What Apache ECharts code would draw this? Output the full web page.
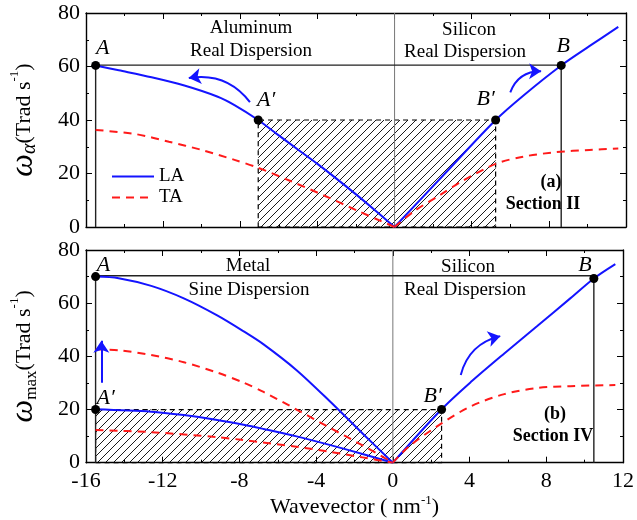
<!DOCTYPE html>
<html>
<head>
<meta charset="utf-8">
<script src="https://cdn.jsdelivr.net/npm/echarts@6/dist/echarts.min.js"></script>
<style>html,body{margin:0;padding:0;background:#fff}#c{width:637px;height:520px}</style>
</head>
<body>
<div id="c"></div>
<script>
// ---------- DATA ----------
const xTicks = [-16, -12, -8, -4, 0, 4, 8, 12];
const yTicks = [0, 20, 40, 60, 80];

// Panel (a): Aluminum real dispersion (left) / Silicon real dispersion (right)
const aLA_leftQ  = [-15.5, -14.3, -12.6, -10.9, -9.2, -8.3, -7.07, -6.2, -5.0, -4.0, -3.0, -2.0, -1.0, 0];
const aLA_leftV  = [60.4, 58.6, 56.0, 52.9, 48.8, 45.6, 40.0, 35.3, 28.9, 23.6, 18.0, 12.2, 6.2, 0];
const aLA_rightQ = [0, 2.6, 5.24, 6.67, 8.64, 10.1, 11.6];
const aLA_rightV = [0, 19.9, 40.0, 49.1, 60.4, 67.6, 74.8];
const aTA_leftQ  = [-15.5, -13.4, -11.7, -10.0, -8.3, -7.1, -5.4, -3.6, -1.9, -0.7, 0];
const aTA_leftV  = [36.3, 34.7, 31.9, 28.8, 25.1, 22.2, 17.2, 11.6, 6.0, 2.2, 0];
const aTA_rightQ = [0, 1.07, 2.37, 3.47, 5.24, 6.67, 8.39, 10.1, 11.6];
const aTA_rightV = [0, 6.2, 12.0, 17.0, 23.6, 26.3, 28.0, 28.8, 29.3];
const aPointsQ = [-15.5, -7.07, 5.24, 8.64];
const aPointsV = [60.4, 40.0, 40.0, 60.4];
const aPointNames = ['A', 'A\u2032', 'B\u2032', 'B'];
const aFrameQ = [-15.5, -15.5, 8.64, 8.64];
const aFrameV = [0, 60.5, 60.5, 0];
const aHatchQ = [-7.07, 5.24];
const aHatchV = [0, 40];
const aArrowsTail = [[-7.5, 46.7], [6.0, 50.3]];
const aArrowsHead = [[-10.67, 55.7], [7.6, 58.2]];

// Panel (b): Metal sine dispersion (left) / Silicon real dispersion (right)
const bLA_upQ  = [-15.5, -14.3, -12.6, -10.9, -9.16, -7.78, -6.74, -5.02, -3.3, -1.58, 0];
const bLA_upV  = [70.0, 69.4, 66.5, 61.8, 55.4, 49.4, 44.5, 34.8, 23.2, 11.0, 0];
const bTA_upQ  = [-15.5, -14.3, -12.6, -10.9, -9.16, -7.78, -6.74, -5.02, -3.3, -1.58, 0];
const bTA_upV  = [42.6, 42.3, 40.5, 37.8, 33.9, 30.1, 26.6, 20.0, 13.2, 6.5, 0];
const bLA_lowQ = [-15.5, -12.6, -10.9, -9.16, -7.78, -6.74, -5.02, -3.3, -1.58, 0];
const bLA_lowV = [20.1, 19.2, 17.9, 16.1, 14.3, 12.7, 9.9, 6.7, 3.3, 0];
const bTA_lowQ = [-15.5, -12.6, -9.16, -7.9, -5.02, -3.3, -1.58, 0];
const bTA_lowV = [12.3, 11.5, 9.6, 8.6, 6.0, 4.1, 2.0, 0];
const bLA_rightQ = [0, 2.54, 4.09, 5.81, 7.53, 9.25, 10.48, 11.6];
const bLA_rightV = [0, 20.1, 30.5, 41.1, 51.4, 61.8, 69.3, 74.7];
const bTA_rightQ = [0, 0.82, 2.54, 4.09, 5.81, 7.53, 9.25, 11.6];
const bTA_rightV = [0, 6.0, 14.8, 21.3, 25.8, 28.1, 28.8, 29.2];
const bPointsQ = [-15.5, -15.5, 2.54, 10.48];
const bPointsV = [70.0, 20.0, 20.0, 69.3];
const bPointNames = ['A', 'A\u2032', 'B\u2032', 'B'];
const bFrameQ = [-15.5, -15.5, 10.48, 10.48];
const bFrameV = [0, 70.3, 70.3, 0];
const bHatchQ = [-15.5, 2.54];
const bHatchV = [0, 20];
const bArrowsTail = [[-15.2, 30.1], [3.54, 33.0]];
const bArrowsHead = [[-15.2, 45.9], [5.6, 47.6]];

const zeroLineQ = [0, 0];
const zeroLineV = [0, 80];

// ---------- STYLE / LAYOUT ----------
const FONT = 'Liberation Serif';
const BLUE = '#1414ff';
const RED = '#ff1a1a';
const aLabelOffsets = [[7, -17], [8, -20], [-10, -21], [2, -19]];
const bLabelOffsets = [[8, -11], [10, -11], [-9, -13], [-9, -13]];
const aArrowCurv = [-0.3, 0.35];
const bArrowCurv = [0, 0.3];

function zip(q, v) { return q.map((x, i) => [x, v[i]]); }

function hatchPattern() {
  const c = document.createElement('canvas');
  c.width = 8; c.height = 8;
  const g = c.getContext('2d');
  g.strokeStyle = '#000';
  g.lineWidth = 0.9;
  g.beginPath();
  g.moveTo(0, 8); g.lineTo(8, 0);
  g.moveTo(-2, 2); g.lineTo(2, -2);
  g.moveTo(6, 10); g.lineTo(10, 6);
  g.stroke();
  return { image: c, repeat: 'repeat' };
}
const pattern = hatchPattern();

const chart = echarts.init(document.getElementById('c'), null, { renderer: 'canvas' });

const grids = [
  { left: 83, right: 11, top: 13, height: 214 },
  { left: 83, right: 11, top: 250, height: 212.7 }
];

function xAx(gi, pos, showLabel, name) {
  return {
    type: 'value', gridIndex: gi, position: pos, min: xTicks[0], max: xTicks[xTicks.length - 1],
    interval: xTicks[1] - xTicks[0],
    axisLine: { show: true, onZero: false, lineStyle: { color: '#000', width: 1.4 } },
    axisTick: { show: true, inside: true, length: 6, lineStyle: { color: '#000', width: 1 } },
    minorTick: { show: true, splitNumber: 2, length: 3, lineStyle: { color: '#000', width: 1 } },
    splitLine: { show: false },
    axisLabel: { show: showLabel, fontFamily: FONT, fontSize: 22, color: '#000', margin: 8 },
    name: name || '', nameLocation: 'middle', nameGap: 30,
    nameTextStyle: {
      fontFamily: FONT, fontSize: 22, color: '#000',
      rich: {
        t: { fontFamily: FONT, fontSize: 22, color: '#000', lineHeight: 28 },
        sup: { fontFamily: FONT, fontSize: 13, color: '#000', verticalAlign: 'top', lineHeight: 13 }
      }
    }
  };
}
function yAx(gi, pos, showLabel, name) {
  return {
    type: 'value', gridIndex: gi, position: pos, min: yTicks[0], max: yTicks[yTicks.length - 1],
    interval: yTicks[1] - yTicks[0],
    axisLine: { show: true, onZero: false, lineStyle: { color: '#000', width: 1.4 } },
    axisTick: { show: true, inside: true, length: 6, lineStyle: { color: '#000', width: 1 } },
    minorTick: { show: true, splitNumber: 2, length: 3, lineStyle: { color: '#000', width: 1 } },
    splitLine: { show: false },
    axisLabel: { show: showLabel, fontFamily: FONT, fontSize: 22, color: '#000', margin: 6 },
    name: name || '', nameLocation: 'middle', nameGap: 46, nameRotate: 90,
    nameTextStyle: {
      fontFamily: FONT, fontSize: 22, color: '#000',
      rich: {
        w: { fontFamily: FONT, fontStyle: 'italic', fontSize: 32, color: '#000', lineHeight: 32 },
        sub: { fontFamily: FONT, fontStyle: 'italic', fontSize: 20, color: '#000', verticalAlign: 'bottom', lineHeight: 20 },
        subr: { fontFamily: FONT, fontSize: 17, color: '#000', verticalAlign: 'bottom', lineHeight: 17 },
        t: { fontFamily: FONT, fontSize: 22, color: '#000', lineHeight: 30 },
        sup: { fontFamily: FONT, fontSize: 13, color: '#000', verticalAlign: 'top', lineHeight: 13 }
      }
    }
  };
}

const xAxes = [
  xAx(0, 'bottom', false), xAx(0, 'top', false),
  xAx(1, 'bottom', true, '{t|Wavevector ( nm}{sup|-1}{t|)}'), xAx(1, 'top', false)
];
const yAxes = [
  yAx(0, 'left', true, '{w|\u03c9}{sub|\u03b1}{t|(Trad s}{sup|-1}{t|)}'), yAx(0, 'right', false),
  yAx(1, 'left', true, '{w|\u03c9}{subr|max}{t|(Trad s}{sup|-1}{t|)}'), yAx(1, 'right', false)
];

function curve(name, q, v, ax, color, dashed) {
  return {
    type: 'line', name: name, xAxisIndex: ax, yAxisIndex: ax, data: zip(q, v),
    symbol: 'none', smooth: 0.3, z: 4, silent: true,
    lineStyle: { color: color, width: 2, type: dashed ? [8, 6] : 'solid' },
    itemStyle: { color: color }
  };
}
function plainLine(q, v, ax, color, width) {
  return {
    type: 'line', xAxisIndex: ax, yAxisIndex: ax, data: zip(q, v), symbol: 'none', z: 3, silent: true,
    lineStyle: { color: color, width: width }
  };
}
function hatch(q, v, ax) {
  return {
    type: 'line', xAxisIndex: ax, yAxisIndex: ax, data: [], z: 1, silent: true,
    markArea: {
      silent: true,
      itemStyle: { color: pattern, borderColor: '#000', borderWidth: 1.2, borderType: [5, 4] },
      data: [[{ coord: [q[0], v[0]] }, { coord: [q[1], v[1]] }]]
    }
  };
}
function points(q, v, names, offs, ax) {
  return {
    type: 'scatter', xAxisIndex: ax, yAxisIndex: ax, z: 6, silent: true,
    symbol: 'circle', symbolSize: 9, itemStyle: { color: '#000', opacity: 1 },
    data: q.map((x, i) => ({
      value: [x, v[i]],
      label: {
        show: true, position: 'inside', offset: offs[i], formatter: names[i], opacity: 1,
        fontFamily: FONT, fontStyle: 'italic', fontSize: 22, color: '#000', textBorderWidth: 0
      }
    }))
  };
}
function arrows(tails, heads, curv, ax) {
  return {
    type: 'lines', coordinateSystem: 'cartesian2d', xAxisIndex: ax, yAxisIndex: ax, z: 5, silent: true,
    symbol: ['none', 'arrow'], symbolSize: [9, 12],
    lineStyle: { color: BLUE, width: 2, opacity: 1 },
    data: tails.map((t, i) => ({ coords: [t, heads[i]], lineStyle: { curveness: curv[i] } }))
  };
}

const series = [
  curve('LA', aLA_leftQ, aLA_leftV, 0, BLUE, false),
  curve('TA', aTA_leftQ, aTA_leftV, 0, RED, true),
  curve('LA', aLA_rightQ, aLA_rightV, 0, BLUE, false),
  curve('TA', aTA_rightQ, aTA_rightV, 0, RED, true),
  hatch(aHatchQ, aHatchV, 0),
  plainLine(zeroLineQ, zeroLineV, 0, '#777', 1),
  plainLine(aFrameQ, aFrameV, 0, '#222', 1.4),
  points(aPointsQ, aPointsV, aPointNames, aLabelOffsets, 0),
  arrows(aArrowsTail, aArrowsHead, aArrowCurv, 0),

  curve('LA', bLA_upQ, bLA_upV, 2, BLUE, false),
  curve('TA', bTA_upQ, bTA_upV, 2, RED, true),
  curve('LA', bLA_lowQ, bLA_lowV, 2, BLUE, false),
  curve('TA', bTA_lowQ, bTA_lowV, 2, RED, true),
  curve('LA', bLA_rightQ, bLA_rightV, 2, BLUE, false),
  curve('TA', bTA_rightQ, bTA_rightV, 2, RED, true),
  hatch(bHatchQ, bHatchV, 2),
  plainLine(zeroLineQ, zeroLineV, 2, '#777', 1),
  plainLine(bFrameQ, bFrameV, 2, '#222', 1.4),
  points(bPointsQ, bPointsV, bPointNames, bLabelOffsets, 2),
  arrows(bArrowsTail, bArrowsHead, bArrowCurv, 2)
];

function txt(x, y, s, size, bold) {
  return {
    type: 'text', x: x, y: y, silent: true,
    style: { text: s, fontFamily: FONT, fontSize: size, fontWeight: bold ? 'bold' : 'normal', fill: '#000', align: 'center', verticalAlign: 'middle' }
  };
}

chart.setOption({
  animation: false,
  textStyle: { fontFamily: FONT },
  grid: grids,
  xAxis: xAxes,
  yAxis: yAxes,
  legend: {
    data: ['LA', 'TA'], orient: 'vertical', left: 106, top: 162, itemWidth: 42, itemHeight: 14, itemGap: 2,
    itemStyle: { opacity: 0 },
    textStyle: { fontFamily: FONT, fontSize: 19, color: '#000' }
  },
  series: series,
  graphic: [
    txt(251, 28, 'Aluminum', 19), txt(251, 51, 'Real Dispersion', 19),
    txt(469, 30, 'Silicon', 19), txt(465, 52, 'Real Dispersion', 19),
    txt(551, 182, '(a)', 18, true), txt(543, 204, 'Section II', 18, true),
    txt(248, 266, 'Metal', 19), txt(249, 290, 'Sine Dispersion', 19),
    txt(468, 267, 'Silicon', 19), txt(465, 290, 'Real Dispersion', 19),
    txt(555, 414, '(b)', 18, true), txt(553, 436, 'Section IV', 18, true)
  ]
});
</script>
</body>
</html>
